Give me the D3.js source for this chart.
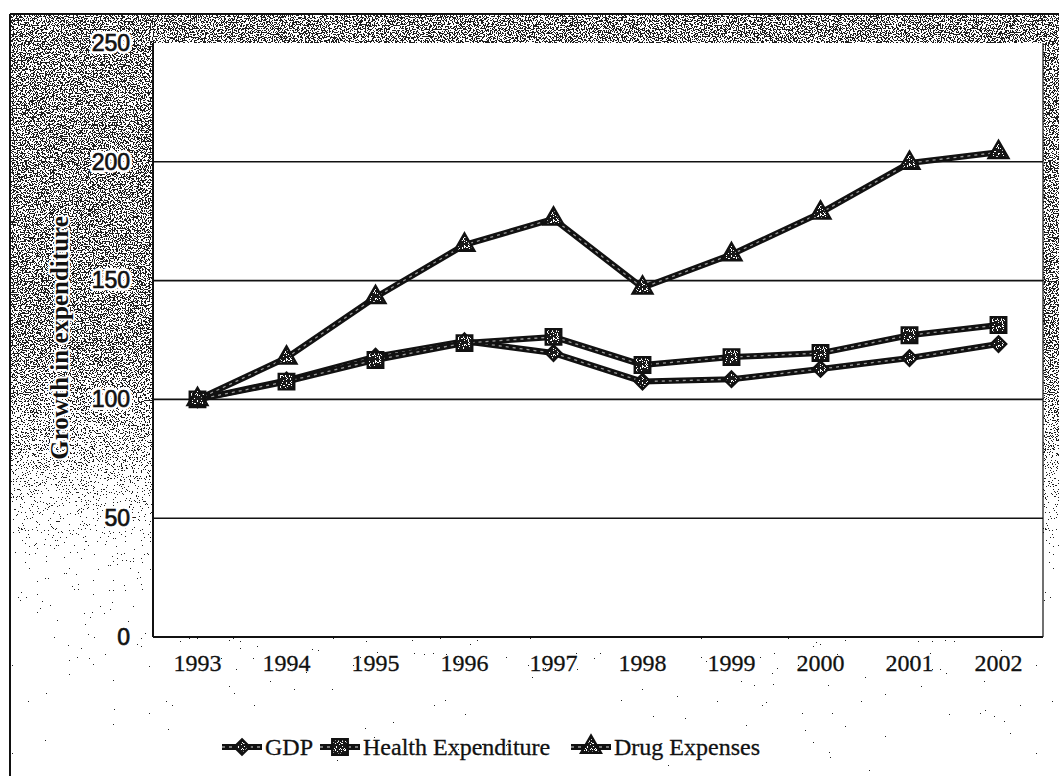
<!DOCTYPE html>
<html>
<head>
<meta charset="utf-8">
<script src="https://cdn.jsdelivr.net/npm/d3@7"></script>
<style>
  html, body { margin: 0; padding: 0; background: #fff; }
  svg { display: block; }
</style>
</head>
<body>
<svg id="chart" width="1059" height="776"></svg>
<script>
// Index of growth (1993 = 100)
const years = ["1993", "1994", "1995", "1996", "1997", "1998", "1999", "2000", "2001", "2002"];
const gdp = [100, 108, 118, 124.5, 119.5, 107.5, 108.5, 112.8, 117.4, 123.3];
const healthExpenditure = [100, 107.5, 116.6, 123.7, 126.3, 114.5, 117.8, 119.5, 127, 131.3];
const drugExpenses = [100, 117.5, 143, 165, 176, 147, 161, 178.5, 199.5, 204];
const yTicks = [0, 50, 100, 150, 200, 250];
const seriesNames = ["GDP", "Health Expenditure", "Drug Expenses"];
const seriesShapes = ["diamond", "square", "triangle"];

const W = 1059, H = 776;
const plot = { left: 153, right: 1043, top: 43, bottom: 637 };

const svg = d3.select("#chart");
const defs = svg.append("defs");

// Vertical density ramp for the speckled backdrop: dense at the top, fading out below
const grad = defs.append("linearGradient")
  .attr("id", "densityRamp")
  .attr("gradientUnits", "userSpaceOnUse")
  .attr("x1", 0).attr("y1", 14).attr("x2", 0).attr("y2", H);
[[14, 1], [350, 1], [400, 0.917], [450, 0.833], [500, 0.71], [560, 0.58], [650, 0.47], [776, 0.39]]
  .forEach(([y, v]) => {
    const c = Math.round(v * 255);
    grad.append("stop")
      .attr("offset", ((y - 14) / (H - 14)))
      .attr("stop-color", `rgb(${c},${c},${c})`);
  });

// Speckle filter: thresholded fractal noise, shifted by the density ramp
const f = defs.append("filter")
  .attr("id", "speckle")
  .attr("x", 0).attr("y", 0).attr("width", 1).attr("height", 1)
  .attr("filterUnits", "objectBoundingBox")
  .attr("color-interpolation-filters", "sRGB");
f.append("feTurbulence")
  .attr("type", "fractalNoise").attr("baseFrequency", 0.75)
  .attr("numOctaves", 2).attr("seed", 7).attr("result", "noise");
f.append("feColorMatrix").attr("in", "noise").attr("type", "matrix")
  .attr("values", "1 0 0 0 0  0 1 0 0 0  0 0 1 0 0  0 0 0 0 1").attr("result", "opaqueNoise");
f.append("feComposite").attr("in", "opaqueNoise").attr("in2", "SourceGraphic")
  .attr("operator", "arithmetic")
  .attr("k1", 0).attr("k2", 1).attr("k3", -0.6).attr("k4", 0.6).attr("result", "shifted");
const ct = f.append("feComponentTransfer").attr("in", "shifted").attr("result", "thresh");
ct.append("feFuncR").attr("type", "discrete").attr("tableValues", "1 1 1 1 1 0 0 0 0 0");
f.append("feColorMatrix").attr("in", "thresh").attr("type", "matrix")
  .attr("values", "0 0 0 0 0.12  0 0 0 0 0.12  0 0 0 0 0.12  1 0 0 0 0");

// Speckle used inside the markers
const mf = defs.append("filter")
  .attr("id", "markerGrain")
  .attr("color-interpolation-filters", "sRGB");
mf.append("feTurbulence")
  .attr("type", "fractalNoise").attr("baseFrequency", 0.8)
  .attr("numOctaves", 1).attr("seed", 3).attr("result", "n");
mf.append("feColorMatrix").attr("in", "n").attr("type", "matrix")
  .attr("values", "1 0 0 0 0  1 0 0 0 0  1 0 0 0 0  0 0 0 0 1").attr("result", "g");
const mct = mf.append("feComponentTransfer").attr("in", "g").attr("result", "gt");
const grainTable = "0.1 0.1 0.1 0.1 0.1 0.1 1 1 1 1";
mct.append("feFuncR").attr("type", "discrete").attr("tableValues", grainTable);
mct.append("feFuncG").attr("type", "discrete").attr("tableValues", grainTable);
mct.append("feFuncB").attr("type", "discrete").attr("tableValues", grainTable);
mf.append("feComposite").attr("in", "gt").attr("in2", "SourceGraphic").attr("operator", "in");

// Backdrop of the chart frame
svg.append("rect")
  .attr("x", 10).attr("y", 14).attr("width", W - 10).attr("height", H - 14)
  .attr("fill", "url(#densityRamp)")
  .attr("filter", "url(#speckle)");

// Plot area
svg.append("rect")
  .attr("x", plot.left).attr("y", plot.top)
  .attr("width", plot.right - plot.left).attr("height", plot.bottom - plot.top)
  .attr("fill", "#fff");

// Outer frame (left and top edges)
svg.append("line").attr("x1", 10).attr("y1", 14).attr("x2", W).attr("y2", 14)
  .attr("stroke", "#111").attr("stroke-width", 2);
svg.append("line").attr("x1", 10).attr("y1", 14).attr("x2", 10).attr("y2", H)
  .attr("stroke", "#111").attr("stroke-width", 2);

const x = d3.scaleBand().domain(years).range([plot.left, plot.right]);
const y = d3.scaleLinear().domain([0, 250]).range([plot.bottom, plot.top]);
const cx = d => x(d) + x.bandwidth() / 2;

// Gridlines
svg.append("g")
  .selectAll("line")
  .data(yTicks.filter(t => t > 0 && t < 250))
  .join("line")
  .attr("x1", plot.left).attr("x2", plot.right)
  .attr("y1", d => y(d)).attr("y2", d => y(d))
  .attr("stroke", "#111").attr("stroke-width", 1.6);

// Plot borders
svg.append("line").attr("x1", plot.left).attr("x2", plot.left)
  .attr("y1", plot.top).attr("y2", plot.bottom)
  .attr("stroke", "#111").attr("stroke-width", 2);
svg.append("line").attr("x1", plot.right).attr("x2", plot.right)
  .attr("y1", plot.top).attr("y2", plot.bottom)
  .attr("stroke", "#111").attr("stroke-width", 1.2);

const serif = "'Liberation Serif', 'Times New Roman', serif";
const sans = "'Liberation Sans', Arial, sans-serif";

// X axis (baseline + year labels)
const xAxis = svg.append("g")
  .attr("transform", `translate(0,${plot.bottom})`)
  .call(d3.axisBottom(x).tickSize(0).tickPadding(17));
xAxis.select(".domain").attr("stroke", "#111").attr("stroke-width", 2.2)
  .attr("d", `M${plot.left},0H${plot.right}`);
xAxis.selectAll("text")
  .attr("font-family", serif)
  .attr("font-size", 24).attr("fill", "#111")
  .attr("stroke", "#111").attr("stroke-width", 0.3);

// Y axis labels: a white halo layer under the dark numerals
const yHalo = svg.append("g")
  .attr("transform", `translate(${plot.left},0)`)
  .call(d3.axisLeft(y).tickValues(yTicks).tickSize(0).tickPadding(23));
yHalo.select(".domain").remove();
yHalo.selectAll("text")
  .attr("font-family", sans).attr("font-size", 23)
  .attr("fill", "#fff").attr("stroke", "#fff").attr("stroke-width", 6)
  .attr("stroke-linejoin", "round");
const yAxis = svg.append("g")
  .attr("transform", `translate(${plot.left},0)`)
  .call(d3.axisLeft(y).tickValues(yTicks).tickSize(0).tickPadding(23));
yAxis.select(".domain").remove();
yAxis.selectAll("text")
  .attr("font-family", sans).attr("font-size", 23)
  .attr("fill", "#111").attr("stroke", "#111").attr("stroke-width", 0.7);

// Y axis title
const titleAttrs = sel => sel
  .attr("transform", "translate(68,338) rotate(-90)")
  .attr("text-anchor", "middle")
  .attr("font-family", serif)
  .attr("font-weight", "bold").attr("font-size", 25)
  .text("Growth in expenditure");
svg.append("text").call(titleAttrs)
  .attr("fill", "#fff").attr("stroke", "#fff").attr("stroke-width", 4)
  .attr("stroke-linejoin", "round");
svg.append("text").call(titleAttrs).attr("fill", "#111");

// Marker shapes
const shapePath = {
  diamond: d3.symbol().type(d3.symbolDiamond2).size(150),
  square: d3.symbol().type(d3.symbolSquare).size(240),
  triangle: d3.symbol().type(d3.symbolTriangle).size(170)
};

function drawMarker(g, shape, px, py) {
  const m = g.append("g").attr("transform", `translate(${px},${py})`);
  const d = shapePath[shape]();
  m.append("path").attr("d", d).attr("fill", "#fff");
  m.append("path").attr("d", d).attr("fill", "#fff").attr("filter", "url(#markerGrain)");
  m.append("path").attr("d", d).attr("fill", "none")
    .attr("stroke", "#111").attr("stroke-width", 2.4).attr("stroke-linejoin", "miter");
}

function drawLine(g, pts) {
  const line = d3.line().x(p => p[0]).y(p => p[1]);
  g.append("path").attr("d", line(pts)).attr("fill", "none")
    .attr("stroke", "#111").attr("stroke-width", 6).attr("stroke-linejoin", "round");
  g.append("path").attr("d", line(pts)).attr("fill", "none")
    .attr("stroke", "#9a9a9a").attr("stroke-width", 1.3)
    .attr("stroke-dasharray", "3 4").attr("stroke-linejoin", "round");
}

const series = [gdp, healthExpenditure, drugExpenses];
const seriesG = svg.append("g");
series.forEach(vals => {
  const g = seriesG.append("g");
  drawLine(g, years.map((yr, j) => [cx(yr), y(vals[j])]));
});
series.forEach((vals, i) => {
  const g = seriesG.append("g");
  years.forEach((yr, j) => drawMarker(g, seriesShapes[i], cx(yr), y(vals[j])));
});

// Legend
const legendX = [222, 320, 571];
const legend = svg.append("g").attr("transform", "translate(0,747)");
seriesNames.forEach((name, i) => {
  const g = legend.append("g").attr("transform", `translate(${legendX[i]},0)`);
  drawLine(g, [[0, 0], [40, 0]]);
  drawMarker(g, seriesShapes[i], 20, 0);
  g.append("text")
    .attr("x", 43).attr("y", 8)
    .attr("font-family", serif)
    .attr("font-size", 24).attr("fill", "#111")
    .attr("stroke", "#111").attr("stroke-width", 0.3)
    .text(name);
});
</script>
</body>
</html>
